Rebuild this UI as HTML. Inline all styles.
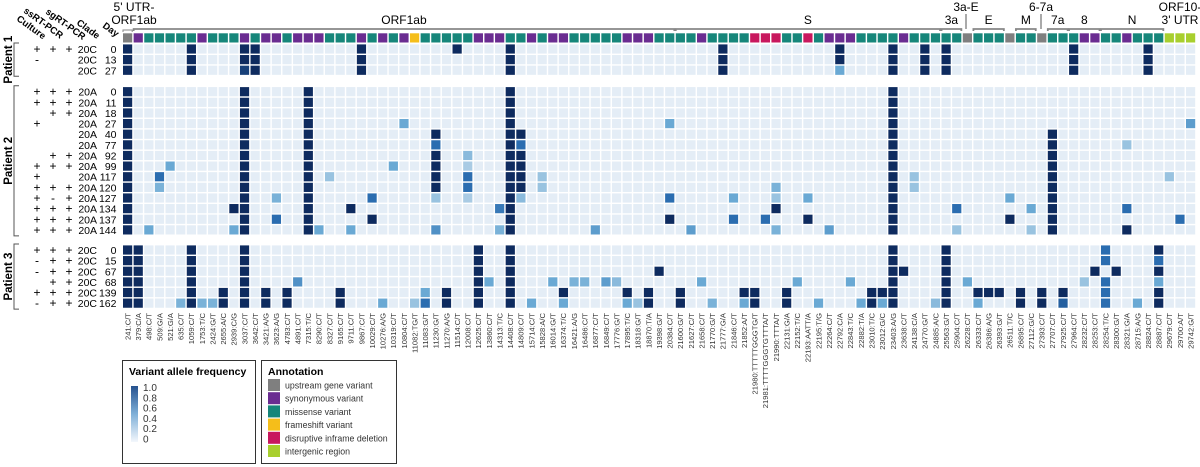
<!DOCTYPE html>
<html><head><meta charset="utf-8"><style>
body{margin:0;background:#fff;}
svg{display:block;font-family:"Liberation Sans",sans-serif;}
</style></head><body>
<svg id="c" width="1200" height="467" viewBox="0 0 1200 467"></svg>
<script>
const variants=["241:C/T","379:C/A","498:C/T","509:G/A","521:G/A","635:C/T","1059:C/T","1753:T/C","2424:G/T","2655:A/C","2939:C/G","3037:C/T","3642:C/T","3421:A/G","3623:A/G","4783:C/T","4891:C/T","7315:T/C","8290:C/T","8327:C/T","9165:C/T","9711:C/T","9867:C/T","10029:C/T","10276:A/G","10319:C/T","10804:C/T","11082:TG/T","11083:G/T","11230:G/T","11270:A/G","11514:C/T","12008:C/T","12625:C/T","13860:C/T","14313:T/C","14408:C/T","14809:C/T","15714:C/T","15828:A/C","16014:G/T","16374:T/C","16421:A/G","16486:C/T","16877:C/T","16849:C/T","17776:G/T","17895:T/C","18318:G/T","18870:T/A","19398:G/T","20384:C/T","21600:G/T","21627:C/T","21658:C/T","21770:G/T","21777:G/A","21846:C/T","21852:A/T","21980:TTTTTGGGTG/T","21981:TTTTGGGTGTTTA/T","21990:TTTA/T","22131:G/A","22152:T/C","22193:AATT/A","22195:T/G","22264:C/T","22792:C/A","22843:T/C","22882:T/A","23010:T/C","23012:G/C","23403:A/G","23638:C/T","24138:C/A","24770:G/T","24885:A/C","25563:G/T","25904:C/T","26228:C/T","26333:C/T","26386:A/G","26393:G/T","26511:T/C","26895:C/T","27112:G/C","27393:C/T","27707:C/T","27925:C/T","27964:C/T","28232:C/T","28253:C/T","28254:T/C","28300:G/T","28321:G/A","28715:A/G","28824:C/T","28887:C/T","29679:C/T","29700:A/T","29742:G/T"];
const annotationCodes=["g","p","t","t","t","t","t","p","t","t","t","p","t","p","p","t","p","p","p","t","t","t","p","t","p","t","p","y","t","t","t","t","t","p","p","p","t","t","p","t","p","p","t","t","t","t","t","p","p","p","t","t","t","t","p","t","t","t","t","r","r","r","t","t","r","t","p","p","p","t","t","t","t","p","t","t","t","t","t","g","t","t","t","g","t","t","g","t","t","t","p","p","t","t","p","t","t","t","l","l","l"];
const patientGroups=[["Patient 1",0,3],["Patient 2",3,14],["Patient 3",17,6]];
const rowDays=[0,13,27,0,11,18,27,40,77,92,99,117,120,127,134,137,144,0,15,67,68,139,162];
const rowClades=["20C","20C","20C","20A","20A","20A","20A","20A","20A","20A","20A","20A","20A","20A","20A","20A","20A","20C","20C","20C","20C","20C","20C"];
const cultureMarks=["+","-","","+","+","","+","","","","+","+","+","+","+","+","+","+","-","-","","+","-"];
const ssMarks=["+","","","+","+","+","","","","+","+","","+","-","+","+","+","+","+","+","+","+","+"];
const sgMarks=["+","","","+","+","+","","","","+","+","","+","+","+","+","+","+","+","+","+","+","+"];
const vaf=[
[[0,1],[6,1],[11,1],[12,1],[22,1],[31,1],[36,1],[56,1],[67,1],[72,1],[75,1],[77,1],[89,1],[96,1]],
[[0,1],[6,1],[11,1],[12,1],[22,1],[36,1],[56,1],[67,1],[72,1],[75,1],[77,1],[89,1],[96,1]],
[[0,1],[6,1],[11,0.92],[12,1],[22,1],[36,1],[56,1],[67,0.5],[72,1],[75,1],[77,1],[89,1],[96,1]],
[[0,1],[11,1],[17,1],[36,1],[72,1]],
[[0,1],[11,1],[17,1],[36,1],[72,1]],
[[0,1],[11,1],[17,1],[36,1],[72,1]],
[[0,1],[11,1],[17,1],[26,0.5],[36,1],[51,0.5],[72,1],[100,0.55]],
[[0,1],[11,1],[17,1],[29,1],[36,1],[37,1],[72,1],[87,1]],
[[0,1],[11,1],[17,1],[29,0.75],[36,1],[37,0.75],[72,1],[87,1],[94,0.35]],
[[0,1],[11,1],[17,1],[29,1],[32,0.4],[36,1],[37,1],[72,1],[87,1]],
[[0,1],[4,0.5],[11,1],[17,1],[25,0.5],[29,1],[32,0.3],[36,1],[37,1],[72,1],[87,1]],
[[0,1],[3,0.75],[11,1],[17,1],[19,0.35],[29,1],[32,0.75],[36,1],[37,1],[39,0.35],[72,1],[74,0.35],[87,1],[98,0.35]],
[[0,1],[3,0.45],[11,1],[17,1],[29,1],[32,0.75],[36,1],[37,1],[39,0.35],[61,0.45],[72,1],[74,0.35],[87,1]],
[[0,1],[11,1],[14,0.45],[17,1],[23,0.75],[29,0.35],[32,0.3],[36,1],[37,0.4],[51,0.75],[57,0.5],[61,0.35],[64,0.5],[72,1],[83,0.5],[87,1]],
[[0,1],[10,1],[11,1],[17,1],[21,1],[35,0.7],[36,1],[61,1],[72,1],[78,0.75],[85,0.5],[87,1],[94,0.75]],
[[0,1],[11,1],[14,0.75],[17,1],[23,1],[36,1],[51,1],[57,0.75],[60,0.75],[64,1],[72,1],[83,1],[87,1],[99,0.75]],
[[0,1],[2,0.5],[10,0.5],[11,1],[17,1],[18,0.5],[21,0.5],[29,0.6],[35,0.45],[36,1],[44,0.55],[53,0.55],[61,0.45],[66,0.55],[72,1],[78,0.35],[85,0.35],[87,1],[94,1]],
[[0,1],[1,1],[6,1],[11,1],[33,1],[36,1],[72,1],[77,1],[92,0.75],[97,1]],
[[0,1],[1,1],[6,1],[11,1],[33,1],[36,1],[72,1],[77,1],[92,0.75],[97,0.75]],
[[0,1],[1,1],[6,1],[11,1],[33,1],[36,1],[50,1],[72,1],[73,1],[77,1],[91,1],[93,1],[97,1]],
[[0,1],[1,1],[6,1],[11,1],[16,0.6],[33,1],[34,0.5],[36,1],[40,0.5],[42,0.45],[43,0.45],[45,0.55],[46,0.4],[54,0.5],[63,0.5],[68,0.5],[72,1],[77,1],[79,0.5],[90,0.35],[92,0.75],[97,0.5]],
[[0,1],[1,1],[6,1],[9,1],[11,1],[13,1],[15,1],[20,1],[28,0.5],[30,1],[33,1],[36,1],[41,1],[47,1],[49,1],[52,1],[58,1],[59,1],[62,1],[70,1],[71,1],[72,1],[77,1],[80,1],[81,1],[82,1],[84,1],[86,1],[88,1],[92,0.75],[97,1]],
[[0,1],[1,1],[5,0.45],[6,1],[7,0.45],[8,0.45],[9,1],[11,1],[13,1],[15,1],[20,1],[24,0.5],[27,0.35],[28,0.75],[30,1],[33,1],[36,1],[38,0.5],[41,0.5],[47,0.5],[48,0.35],[49,1],[52,1],[55,0.45],[58,0.5],[59,1],[62,1],[65,0.5],[69,0.5],[70,1],[71,0.5],[72,1],[76,0.4],[77,1],[80,0.5],[84,1],[86,1],[88,0.8],[92,0.75],[95,0.5],[97,1]]
];
const annoLabels=[["g","upstream gene variant"],["p","synonymous variant"],["t","missense variant"],["y","frameshift variant"],["r","disruptive inframe deletion"],["l","intergenic region"]];
const vafTicks=["1.0","0.8","0.6","0.4","0.2","0"];

const annoColor={g:"#7f7f7f",p:"#6a2c91",t:"#16867a",y:"#f5be1a",r:"#c8185e",l:"#a8cf2e"};
const NS="http://www.w3.org/2000/svg";
const svg=document.getElementById("c");
function el(tag,attrs,parent){const e=document.createElementNS(NS,tag);for(const k in attrs)e.setAttribute(k,attrs[k]);(parent||svg).appendChild(e);return e;}
const X0=123,STEP=10.63,CS=9.2;
function xCol(i){return X0+STEP*i;}
const groupTop=[49,91.7,250];
function rowCenter(r){for(let g=0;g<3;g++){const s=patientGroups[g][1],n=patientGroups[g][2];if(r>=s&&r<s+n)return groupTop[g]+(r-s)*STEP;}}
const stops=[[0,[228,237,246]],[0.3,[169,203,228]],[0.5,[106,169,212]],[0.75,[43,109,176]],[1,[14,43,95]]];
function vafColor(v){for(let i=1;i<stops.length;i++){if(v<=stops[i][0]){const a=stops[i-1],b=stops[i];const t=(v-a[0])/(b[0]-a[0]);const c=a[1].map((x,k)=>Math.round(x+(b[1][k]-x)*t));return `rgb(${c})`;}}return "rgb(14,43,95)";}

annotationCodes.forEach((c,i)=>{const r=el("rect",{x:xCol(i),y:33.3,width:CS,height:CS,fill:annoColor[c]});

});

rowDays.forEach((d,r)=>{
 const m={};vaf[r].forEach(p=>m[p[0]]=p[1]);
 for(let i=0;i<variants.length;i++){
  const v=m[i]||0;
  const rc=el("rect",{x:xCol(i),y:rowCenter(r)-CS/2,width:CS,height:CS,fill:vafColor(v)});
  
  
 }
 const cy=rowCenter(r)+4;
 const cols=[[37,cultureMarks[r]],[53,ssMarks[r]],[69,sgMarks[r]]];
 cols.forEach(c=>{if(c[1]){const t=el("text",{x:c[0],y:cy,"font-size":12,"text-anchor":"middle"});t.textContent=c[1];
 
 }});
 const tc=el("text",{x:97,y:cy,"font-size":10.5,"text-anchor":"end"});tc.textContent=rowClades[r];
 
 
 const td=el("text",{x:116.5,y:cy,"font-size":10.5,"text-anchor":"end"});td.textContent=d;
 
 
});

variants.forEach((v,i)=>{const cx=xCol(i)+CS/2+2.8;const t=el("text",{x:cx,y:313,"font-size":7.6,fill:"#333","text-anchor":"end",transform:`rotate(-90 ${cx} 313)`});t.textContent=v;

});

patientGroups.forEach((g,k)=>{const y1=rowCenter(g[1])-6,y2=rowCenter(g[1]+g[2]-1)+6;
 el("path",{d:`M19 ${y1}H14V${y2}H19`,stroke:"#555",fill:"none","stroke-width":1});
 const my=(y1+y2)/2;const t=el("text",{x:8,y:my,"font-size":11.5,"font-weight":"bold","text-anchor":"middle",transform:`rotate(-90 8 ${my})`,dy:4});t.textContent=g[0];
 
 });

[["Culture",16,20],["ssRT-PCR",23,12],["sgRT-PCR",45,13],["Clade",76,24],["Day",102,27]].forEach(h=>{const t=el("text",{x:h[1],y:h[2],"font-size":9.5,"font-weight":"bold",transform:`rotate(36 ${h[1]} ${h[2]})`});t.textContent=h[0];
 
 });

const regions=[["ORF1ab",1,51],["S",52,76],["3a",77,78],["E",80,82],["M",84,85],["7a",87,88],["8",89,91],["N",92,97]];
regions.forEach(g=>{const x1=xCol(g[1]),x2=xCol(g[2])+CS;
 el("path",{d:`M${x1} 31V29H${x2}V31`,stroke:"#888",fill:"none","stroke-width":1.8});
 const t=el("text",{x:(x1+x2)/2,y:24,"font-size":12,"text-anchor":"middle"});t.textContent=g[0];
 
 });
el("path",{d:`M${xCol(0)} 32V30H${xCol(0)+CS}V32`,stroke:"#888",fill:"none","stroke-width":1});
function txt(s,x,y,a,name){const t=el("text",{x:x,y:y,"font-size":12,"text-anchor":a||"middle"});t.textContent=s;return t;}
txt("5' UTR-",134,11,"middle","utr5-label");txt("ORF1ab",134,24,"middle","utr5-label");
txt("3a-E",966,11,"middle","intergenic-label");txt("6-7a",1041,11,"middle","intergenic-label");
txt("ORF10-",1180,11,"middle","utr3-label");txt("3' UTR",1180,24,"middle","utr3-label");
el("line",{x1:966,y1:14,x2:966,y2:29,stroke:"#555"});
el("line",{x1:1041,y1:14,x2:1041,y2:29,stroke:"#555"});

el("rect",{x:122.5,y:360.5,width:133,height:103,fill:"none",stroke:"#333"});
const tv=el("text",{x:129,y:375,"font-size":10.5,"font-weight":"bold"});tv.textContent="Variant allele frequency";


const defs=el("defs",{});const lg=el("linearGradient",{id:"vg",x1:0,y1:0,x2:0,y2:1},defs);
[[0,"#26528f"],[0.5,"#7fb0d8"],[1,"#f3f7fc"]].forEach(s=>el("stop",{offset:s[0],"stop-color":s[1]},lg));
el("rect",{x:131,y:386,width:7,height:56,fill:"url(#vg)"});
vafTicks.forEach((s,k)=>{const t=el("text",{x:143,y:391+k*10.3,"font-size":10,fill:"#333"});t.textContent=s;

});

el("rect",{x:261.5,y:360.5,width:135,height:103,fill:"none",stroke:"#333"});
const ta=el("text",{x:268,y:375,"font-size":10.5,"font-weight":"bold"});ta.textContent="Annotation";


annoLabels.forEach((a,k)=>{const y=379+k*13.2;
 el("rect",{x:268,y:y,width:12,height:12,fill:annoColor[a[0]]});
 const t=el("text",{x:285,y:y+9.5,"font-size":8.8,fill:"#333"});t.textContent=a[1];
 
 });
</script>
</body></html>
